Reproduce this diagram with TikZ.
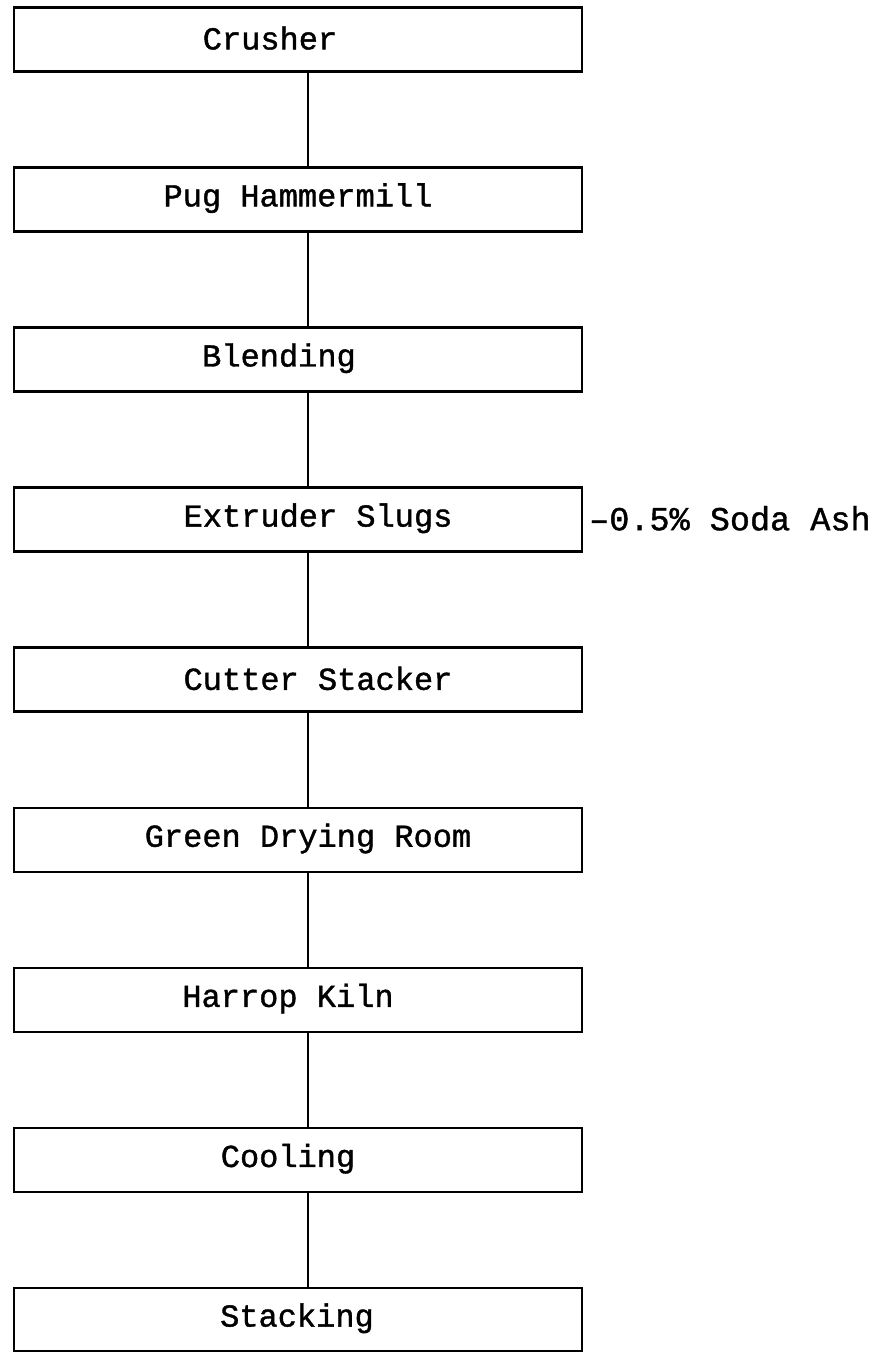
\documentclass[tikz,border=0pt]{standalone}
\usepackage{fontspec}
\setmonofont{Liberation Mono}
\newfontfamily\scanmono{Liberation Mono}[FakeBold=1.2]
\begin{document}
\begin{tikzpicture}[x=1pt,y=-1pt,
  stepbox/.style={draw=black, line width=2.6pt, minimum width=568pt, minimum height=64pt, inner sep=0pt, anchor=north},
  steptext/.style={font=\scanmono\fontsize{32}{36}\selectfont, inner sep=0pt},
  notetext/.style={font=\scanmono\fontsize{33.5}{36}\selectfont, inner sep=0pt},
  link/.style={draw=black, line width=2.5pt}]
\useasboundingbox (0,0) rectangle (880,1352);
\node[stepbox] (b1) at (298,6) {};
\node[stepbox] (b2) at (298,166.1) {};
\node[stepbox] (b3) at (298,326.2) {};
\node[stepbox] (b4) at (298,486.3) {};
\node[stepbox] (b5) at (298,646.4) {};
\node[stepbox] (b6) at (298,806.5) {};
\node[stepbox] (b7) at (298,966.6) {};
\node[stepbox] (b8) at (298,1126.7) {};
\node[stepbox, minimum height=63pt] (b9) at (298,1286.8) {};
\node[steptext] (t1) at (270,38) {Crusher};
\node[steptext] (t2) at (298,198.1) {Pug Hammermill};
\node[steptext] (t3) at (279,358.2) {Blending};
\node[steptext] (t4) at (318,518.3) {Extruder Slugs};
\node[steptext] (t5) at (318,678.4) {Cutter Stacker};
\node[steptext] (t6) at (308,838.5) {Green Drying Room};
\node[steptext] (t7) at (288,998.6) {Harrop Kiln};
\node[steptext] (t8) at (288,1158.7) {Cooling};
\node[steptext] (t9) at (297,1318.3) {Stacking};
\node[notetext, anchor=west] (soda) at (589,518.3) {–0.5\% Soda Ash};
\foreach \a/\b in {b1/b2,b2/b3,b3/b4,b4/b5,b5/b6,b6/b7,b7/b8,b8/b9}
  \draw[link] ([xshift=10pt]\a.south) -- ([xshift=10pt]\b.north);
\end{tikzpicture}
\end{document}
